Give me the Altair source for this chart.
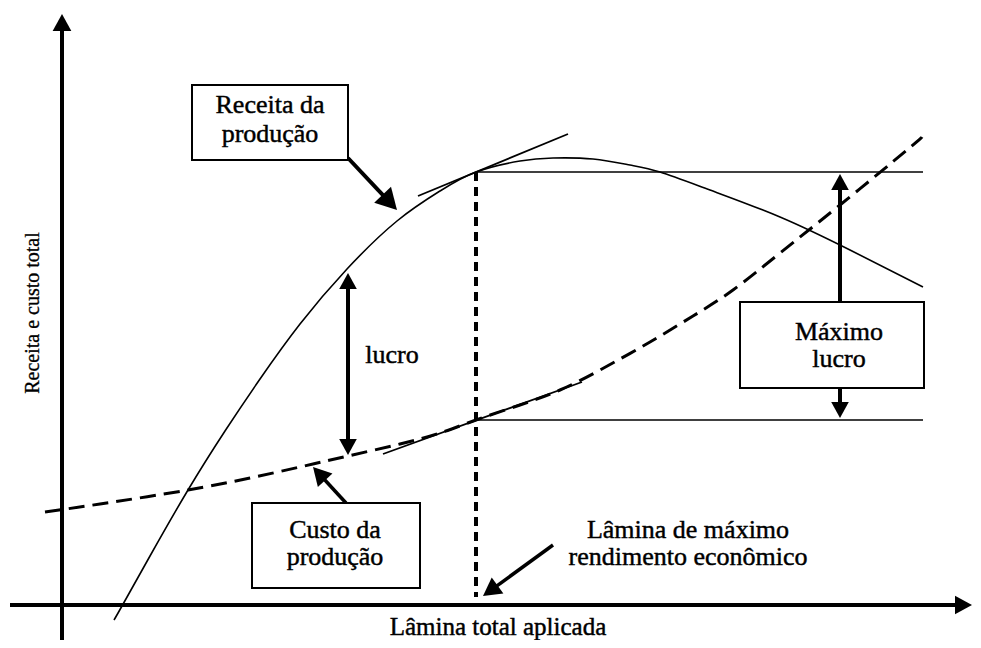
import altair as alt
import pandas as pd
import numpy as np

# ---- Data (diagram units: x to the right of the origin, y above the horizontal axis) ----
# Receita da produção (solid curve)
rev_x = [52, 60, 88, 126, 163, 198, 238, 285, 335, 378, 414, 458, 491, 531, 568, 598, 648, 718, 788, 861]
rev_y = [-15, -1, 49, 115, 174, 226, 281, 336, 384, 414, 433, 444, 447, 446, 440, 433, 415, 388, 355, 318]
# Custo da produção (dashed curve)
cost_x = [-17, 38, 126, 188, 238, 286, 338, 378, 414, 458, 498, 538, 588, 631, 671, 718, 778, 845, 860]
cost_y = [93, 101, 115, 127, 138, 149, 161, 172, 185, 200, 215, 235, 263, 289, 315, 352, 400, 455, 468]

# Tangent lines (revenue, cost)
tan_x1 = [356, 321]
tan_y1 = [409, 151]
tan_x2 = [506, 520]
tan_y2 = [471, 223]

# Horizontal reference lines from the optimum
hl_y = [433, 185]
hl_x1 = [414, 414]
hl_x2 = [861, 861]

# Vertical dashed line (lâmina de máximo rendimento econômico)
vl_x = [414]
vl_y1 = [433]
vl_y2 = [8]

# Arrows: start -> tip
arr_x0 = [0, -52, 286, 286, 778, 778, 286, 284, 491]
arr_y0 = [-35, 0, 241, 241, 303, 217, 447, 102, 60]
arr_x1 = [0, 910, 286, 286, 778, 778, 335, 251, 421]
arr_y1 = [591, 0, 332, 150, 431, 187, 395, 138, 9]
arr_head = [17, 17, 16, 16, 16, 16, 21, 18, 18]
arr_w = [4, 4, 4, 4, 4, 4, 4, 3.5, 3.5]

# Boxes
box_x1 = [130, 190, 678]
box_x2 = [286, 358, 862]
box_y1 = [445, 17, 217]
box_y2 = [520, 102, 303]

# Labels (one row per text line, alphabetic baseline)
lab_text = ["Receita da", "produção", "Custo da", "produção", "Máximo", "lucro", "lucro",
            "Lâmina de máximo", "rendimento econômico", "Lâmina total aplicada"]
lab_x = [208, 208, 273, 273, 777, 777, 330, 626, 626, 436]
lab_y = [492, 463, 67, 40, 265, 238, 242, 67, 40, -30]
lab_fs = [26, 26, 26, 26, 26, 26, 26, 26, 26, 25]

ytitle = ["Receita e custo total"]
ytitle_x = [-29]
ytitle_y = [292]

# ---- Build tables ----
rev = pd.DataFrame({"x": rev_x, "y": rev_y, "i": range(len(rev_x))})
cost = pd.DataFrame({"x": cost_x, "y": cost_y, "i": range(len(cost_x))})
tan = pd.DataFrame({"x": tan_x1, "y": tan_y1, "x2": tan_x2, "y2": tan_y2})
hl = pd.DataFrame({"x": hl_x1, "x2": hl_x2, "y": hl_y})
vl = pd.DataFrame({"x": vl_x, "y": vl_y1, "y2": vl_y2})

x0 = np.array(arr_x0, float); y0 = np.array(arr_y0, float)
x1 = np.array(arr_x1, float); y1 = np.array(arr_y1, float)
hlen = np.array(arr_head, float)
dx = x1 - x0; dy = y1 - y0
L = np.hypot(dx, dy)
ux, uy = dx / L, dy / L
shaft = pd.DataFrame({"x": x0, "y": y0,
                      "x2": x1 - ux * hlen * 0.6, "y2": y1 - uy * hlen * 0.6,
                      "w": arr_w})
heads = pd.DataFrame({"x": x1, "y": y1,
                      "ang": np.mod(np.degrees(np.arctan2(dx, dy)), 360),
                      "s": (2 * hlen) ** 2})

boxes = pd.DataFrame({"x": box_x1, "x2": box_x2, "y": box_y1, "y2": box_y2})
labels = pd.DataFrame({"t": lab_text, "x": lab_x, "y": lab_y, "fs": lab_fs})
ylab = pd.DataFrame({"t": ytitle, "x": ytitle_x, "y": ytitle_y})

xs = alt.Scale(domain=[-54, 911], nice=False, zero=False)
ys = alt.Scale(domain=[-35, 597], nice=False, zero=False)

def X(f="x"):
    return alt.X(f"{f}:Q", scale=xs, axis=None)

def Y(f="y"):
    return alt.Y(f"{f}:Q", scale=ys, axis=None)

FONT = "Liberation Serif"

rev_line = alt.Chart(rev).mark_line(color="black", strokeWidth=1.6, interpolate="natural").encode(
    x=X(), y=Y(), order="i:Q")
cost_line = alt.Chart(cost).mark_line(color="black", strokeWidth=3, strokeDash=[16, 8],
                                      interpolate="natural").encode(x=X(), y=Y(), order="i:Q")
tan_lines = alt.Chart(tan).mark_rule(color="black", strokeWidth=1.8).encode(
    x=X(), y=Y(), x2="x2:Q", y2="y2:Q")
h_lines = alt.Chart(hl).mark_rule(color="black", strokeWidth=1.5).encode(
    x=X(), x2="x2:Q", y=Y())
v_line = alt.Chart(vl).mark_rule(color="black", strokeWidth=4, strokeDash=[9, 6]).encode(
    x=X(), y=Y(), y2="y2:Q")
shafts = alt.Chart(shaft).mark_rule(color="black").encode(
    x=X(), y=Y(), x2="x2:Q", y2="y2:Q", strokeWidth=alt.StrokeWidth("w:Q", scale=None))
arrowheads = alt.Chart(heads).mark_point(
    shape="M0,0L-0.55,1L0.55,1Z", filled=True, color="black", opacity=1, strokeWidth=0).encode(
    x=X(), y=Y(), angle=alt.Angle("ang:Q", scale=None), size=alt.Size("s:Q", scale=None))
box_marks = alt.Chart(boxes).mark_rect(fill="white", stroke="black", strokeWidth=2).encode(
    x=X(), x2="x2:Q", y=Y(), y2="y2:Q")
texts = alt.Chart(labels).mark_text(font=FONT, color="black", align="center",
                                    baseline="alphabetic", stroke="black",
                                    strokeWidth=0.45).encode(
    x=X(), y=Y(), text="t:N", size=alt.Size("fs:Q", scale=None))
ytext = alt.Chart(ylab).mark_text(font=FONT, color="black", align="center",
                                  baseline="middle", angle=270, fontSize=20,
                                  stroke="black", strokeWidth=0.3).encode(
    x=X(), y=Y(), text="t:N")

chart = alt.layer(rev_line, cost_line, tan_lines, h_lines, v_line, shafts, arrowheads,
                  box_marks, texts, ytext).properties(
    width=965, height=632, padding=0, autosize=alt.AutoSizeParams(type="none"),
    background="white"
).configure_view(stroke=None)

chart.save("out.html", embed_options={"renderer": "svg", "actions": False})
